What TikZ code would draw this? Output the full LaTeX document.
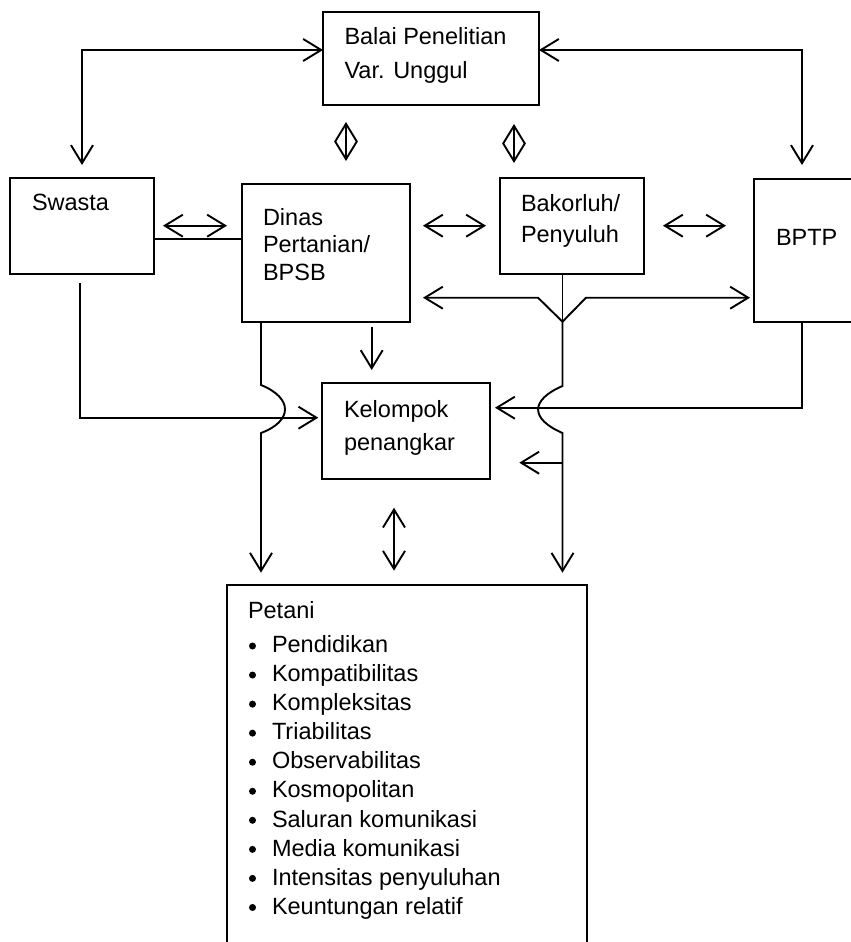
\documentclass[tikz,border=0pt]{standalone}
\usepackage{fontspec}
\setmainfont{Liberation Sans}
\usetikzlibrary{arrows.meta}
\begin{document}
\begin{tikzpicture}[x=1pt,y=-1pt,
  box/.style={draw,line width=1.9pt,inner sep=0pt,outer sep=0pt},
  txt/.style={anchor=base west,inner sep=0pt,outer sep=0pt,font=\fontsize{23.5}{29}\selectfont},
  dot/.style={circle,fill,inner sep=0pt,outer sep=0pt,minimum size=7pt},
  conn/.style={line width=1.9pt},
  arr/.style={conn,-{Straight Barb[length=18pt,width=22pt]}},
  dbl/.style={conn,{Straight Barb[length=18pt,width=22pt]}-{Straight Barb[length=18pt,width=22pt]}}
]
\useasboundingbox (0,0) rectangle (851,942);
% boxes
\node[box,minimum width=216pt,minimum height=93pt] (balai) at (431,58.5) {};
\node[box,minimum width=144pt,minimum height=96pt] (swasta) at (82,226) {};
\node[box,minimum width=168pt,minimum height=138pt] (dinas) at (326,253) {};
\node[box,minimum width=144pt,minimum height=96pt] (bakor) at (572,226) {};
\node[box,minimum width=106pt,minimum height=143pt] (bptp) at (807,250.5) {};
\node[box,minimum width=168pt,minimum height=96pt] (kelompok) at (406,431) {};
\node[box,minimum width=360pt,minimum height=365pt] (petani) at (407,767.5) {};
% texts
\node[txt] (t1) at (344.5,45) {Balai Penelitian};
\node[txt] (t2) at (344.5,78) {Var. Unggul};
\node[txt] (t3) at (32,210) {Swasta};
\node[txt] (t4) at (263,225) {Dinas};
\node[txt] (t5) at (263,252) {Pertanian/};
\node[txt] (t6) at (263,280) {BPSB};
\node[txt] (t7) at (521,211.5) {Bakorluh/};
\node[txt] (t8) at (521,242.5) {Penyuluh};
\node[txt] (t9) at (776,245) {BPTP};
\node[txt] (t10) at (344,417) {Kelompok};
\node[txt] (t11) at (344,450) {penangkar};
\node[txt] (t12) at (248,618) {Petani};
\foreach \i/\s in {0/Pendidikan,1/Kompatibilitas,2/Kompleksitas,3/Triabilitas,4/Observabilitas,5/Kosmopolitan,6/Saluran komunikasi,7/Media komunikasi,8/Intensitas penyuluhan,9/Keuntungan relatif}{
  \node[dot] (b\i) at (252.5,646+29.05*\i) {};
  \node[txt] (p\i) at (272,652.7+29.05*\i) {\s};
}
% coordinates
\coordinate (swtop) at (82,165);
\coordinate (bptop) at (802,165);
\coordinate (jn) at (562.5,321.7);
% connectors
\draw[dbl] (balai.west |- 0,50) -| (swtop);
\draw[dbl] (balai.east |- 0,50) -| (bptop);
\draw[dbl] (346,122) coordinate (d1a) -- (346,161) coordinate (d1b);
\draw[dbl] (514,124) coordinate (d2a) -- (514,163) coordinate (d2b);
\draw[dbl] (163,225.7) coordinate (d3a) -- (227,225.7) coordinate (d3b);
\draw[conn] (swasta.east |- 0,238.7) -- (dinas.west |- 0,238.7);
\draw[dbl] (423,225.7) coordinate (d4a) -- (486,225.7) coordinate (d4b);
\draw[dbl] (663,225.7) coordinate (d5a) -- (726,225.7) coordinate (d5b);
\draw[conn] (bakor.south -| jn) -- (jn);
\draw[arr] (jn) -- (538,297.7) -- (423,297.7);
\draw[arr] (jn) -- (586,297.7) -- (750,297.7);
\draw[arr] (jn) -- (562.5,386) .. controls (530,400) and (530,419) .. (562.5,433) -- (562.5,572.7);
\draw[arr] (562.5,462.7) -- (519.3,462.7);
\draw[arr] (bptp.south -| 802,0) -- (802,407.7) -- (495,407.7);
\draw[arr] (dinas.south -| 261,0) -- (261,385) .. controls (293,398) and (293,421) .. (261,433) -- (261,572.7);
\draw[arr] (80,283) -- (80,417.7) -- (318.3,417.7);
\draw[arr] (371.7,326.7) -- (371.7,370);
\draw[dbl] (394,507.7) -- (394,570.7);
\end{tikzpicture}
\end{document}
